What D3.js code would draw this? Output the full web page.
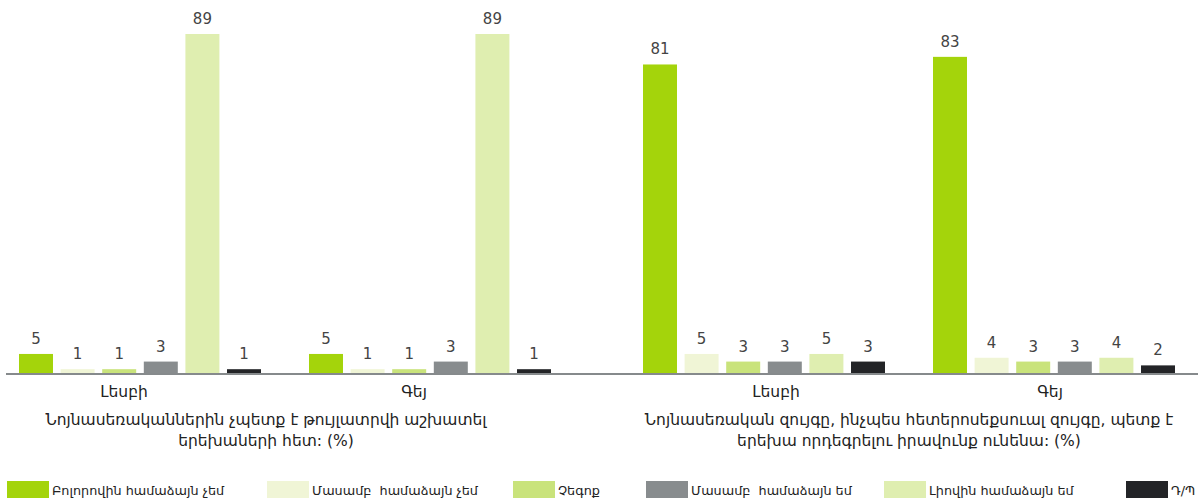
<!DOCTYPE html>
<html><head><meta charset="utf-8">
<script src="https://cdn.jsdelivr.net/npm/d3@7"></script>
<style>
html,body{margin:0;padding:0;background:#fff;}
text{font-family:"DejaVu Sans",sans-serif;white-space:pre;}
</style></head>
<body><svg id="c" width="1200" height="501"></svg>
<script>
const categories = ["Լեսբի", "Գեյ"];
const series = ["Բոլորովին համաձայն չեմ", "Մասամբ  համաձայն չեմ", "Չեգոք", "Մասամբ  համաձայն եմ", "Լիովին համաձայն եմ", "Դ/Պ"];
const colors = ["#a4d40b", "#f0f5d6", "#c9e37b", "#888c8e", "#dfeeb0", "#232427"];
const panelTitles = [
  ["Նոյնասեռականներին չպետք է թույլատրվի աշխատել", "երեխաների հետ: (%)"],
  ["Նոյնասեռական զույգը, ինչպես հետերոսեքսուալ զույգը, պետք է", "երեխա որդեգրելու իրավունք ունենա: (%)"]
];
const panel1Values = [[5, 1, 1, 3, 89, 1], [5, 1, 1, 3, 89, 1]];
const panel2Values = [[81, 5, 3, 3, 5, 3], [83, 4, 3, 3, 4, 2]];
const panels = [panel1Values, panel2Values];

const svg = d3.select("#c");
const baseY = 373;
const y = d3.scaleLinear().domain([0, 89]).range([baseY, 34]);

const panelCfg = [
  {barStart: 19, labelCenters: [124, 414], titleX: 266, axis: [6, 599]},
  {barStart: 643, labelCenters: [776, 1050], titleX: 909, axis: [599, 1198]}
];

const x1 = d3.scaleBand().domain(series).range([0, 242]).paddingInner(0.183);

panels.forEach((vals, pi) => {
  const cfg = panelCfg[pi];
  const x0 = d3.scaleBand().domain(categories).range([cfg.barStart, cfg.barStart + 580]);
  const g = svg.append("g");
  categories.forEach((cat, ci) => {
    const gg = g.append("g").attr("transform", `translate(${x0(cat)},0)`);
    const rows = series.map((s, si) => ({s, v: vals[ci][si], c: colors[si]}));
    gg.selectAll("rect").data(rows).join("rect")
      .attr("x", d => x1(d.s)).attr("width", x1.bandwidth())
      .attr("y", d => y(d.v)).attr("height", d => baseY - y(d.v))
      .attr("fill", d => d.c);
    gg.selectAll("text").data(rows).join("text")
      .attr("x", d => x1(d.s) + x1.bandwidth() / 2)
      .attr("y", d => y(d.v) - 10)
      .attr("text-anchor", "middle")
      .attr("font-size", 15).attr("fill", "#444")
      .text(d => d.v);
    g.append("text").attr("x", cfg.labelCenters[ci]).attr("y", 397)
      .attr("text-anchor", "middle").attr("font-size", 15.5).attr("fill", "#222")
      .text(cat);
  });
  g.append("line").attr("x1", cfg.axis[0]).attr("x2", cfg.axis[1])
    .attr("y1", baseY + 1).attr("y2", baseY + 1)
    .attr("stroke", "#868a8c").attr("stroke-width", 2);
  panelTitles[pi].forEach((t, li) => {
    g.append("text").attr("x", cfg.titleX).attr("y", 425 + li * 21)
      .attr("text-anchor", "middle").attr("font-size", 15.5).attr("fill", "#222")
      .text(t);
  });
});

const legendX = [7, 267, 513, 646, 884, 1126];
const lg = svg.append("g");
series.forEach((s, i) => {
  lg.append("rect").attr("x", legendX[i]).attr("y", 481).attr("width", 42).attr("height", 17).attr("fill", colors[i]);
  lg.append("text").attr("x", legendX[i] + 45).attr("y", 495).attr("font-size", 12.8).attr("fill", "#222").text(s);
});
</script></body></html>
